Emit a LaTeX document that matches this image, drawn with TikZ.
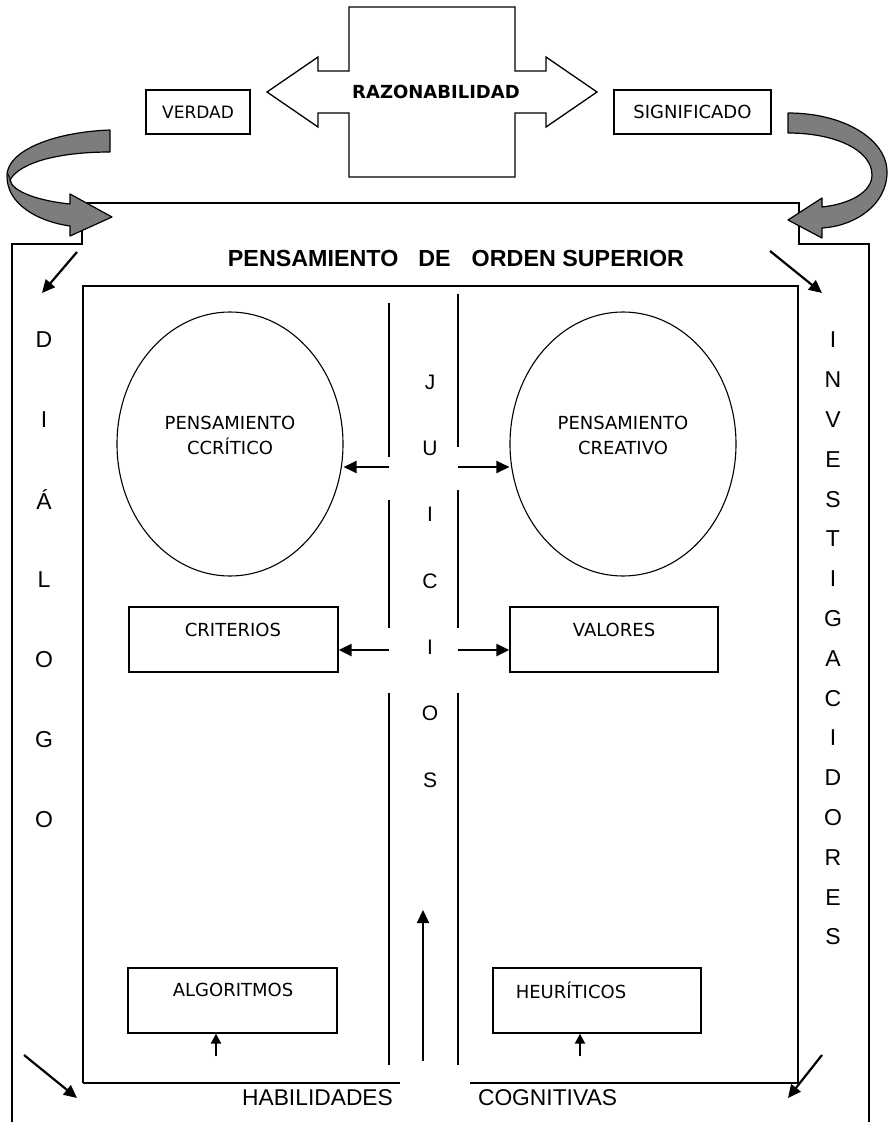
\documentclass[tikz,border=0pt]{standalone}
\usepackage{fontspec}
\setmainfont{Liberation Sans}
\newfontfamily\comic{DejaVu Sans}
\usetikzlibrary{arrows.meta,shapes.geometric}

\definecolor{ribbon}{RGB}{125,125,125}

\tikzset{
  frame/.style={line width=1.3pt},
  thickframe/.style={line width=2.2pt},
  box/.style={draw, line width=1.3pt, inner sep=0pt},
  arr/.style={line width=2.2pt, -{Triangle[length=13pt,width=12pt]}},
  smallarr/.style={line width=2.2pt, -{Triangle[length=10pt,width=10pt]}},
  comictext/.style={font=\comic\fontsize{18}{25}\selectfont, align=center, inner sep=0pt},
  comicbold/.style={font=\comic\bfseries\fontsize{18}{22}\selectfont, inner sep=0pt},
  letter/.style={font=\fontsize{23}{25}\selectfont, inner sep=0pt},
  jletter/.style={font=\fontsize{21}{23}\selectfont, inner sep=0pt},
  ribbonarrow/.style={fill=ribbon, draw=black, line width=1.2pt, line join=round}
}

\begin{document}
\begin{tikzpicture}[x=1pt, y=-1pt]
\useasboundingbox (0,0) rectangle (888,1122);

% central double-headed cross arrow
\draw[frame, fill=white] (349,7) -- (515,7) -- (515,71) -- (546,71) -- (546,57) -- (597,92)
  -- (546,127) -- (546,113) -- (515,113) -- (515,177) -- (349,177) -- (349,113)
  -- (318,113) -- (318,127) -- (267,92) -- (318,57) -- (318,71) -- (349,71) -- cycle;
\node[comicbold] (razon) at (436,92) {RAZONABILIDAD};

\node[box, minimum width=104pt, minimum height=44pt] (verdad) at (198,112) {};
\node[comictext, font=\comic\fontsize{17}{20}\selectfont] at (verdad.center) {VERDAD};
\node[box, minimum width=157pt, minimum height=44pt] (signif) at (692.5,112) {};
\node[comictext] at (signif.center) {SIGNIFICADO};

% outer frame
\draw[frame] (12,1122) -- (12,244) -- (82,244) -- (82,203) -- (799,203) -- (799,244) -- (869,244) -- (869,1122);

% inner frame
\draw[frame] (83,1083) -- (83,286) -- (798,286) -- (798,1083);
\draw[thickframe] (83,1083) -- (400,1083);
\draw[thickframe] (470,1083) -- (798,1083);

% curved ribbon arrows
\draw[ribbonarrow] (110,130) .. controls (55,132) and (8,150) .. (7,175)
  .. controls (6,205) and (40,222) .. (70,226) -- (70,236) -- (112,217) -- (70,194) -- (70,204)
  .. controls (40,201) and (12,192) .. (10,180)
  .. controls (20,162) and (60,152) .. (110,152) -- cycle;
\draw[line width=1pt] (7,172) -- (11,181);

\draw[ribbonarrow] (788,113) .. controls (845,113) and (887,140) .. (887,172)
  .. controls (887,205) and (855,226) .. (822,228) -- (822,238) -- (788,220) -- (822,198) -- (822,207)
  .. controls (850,204) and (872,192) .. (872,175)
  .. controls (872,150) and (835,133) .. (788,133) -- cycle;

% title
\node[font=\bfseries\fontsize{23.3}{26}\selectfont, inner sep=0pt] (title) at (456,258)
  {PENSAMIENTO\hspace{20pt}DE\hspace{21pt}ORDEN SUPERIOR};

% corner arrows
\coordinate (tl0) at (77,252);  \coordinate (tl1) at (42,293);
\coordinate (tr0) at (770,251); \coordinate (tr1) at (822,293);
\coordinate (bl0) at (24,1055); \coordinate (bl1) at (77,1098);
\coordinate (br0) at (822,1055);\coordinate (br1) at (788,1098);
\draw[arr] (tl0) -- (tl1);
\draw[arr] (tr0) -- (tr1);
\draw[arr] (bl0) -- (bl1);
\draw[arr] (br0) -- (br1);

% DIÁLOGO
\foreach \ch [count=\i from 0] in {D,I,Á,L,O,G,O}
  \node[letter] (dia\i) at (44,340+80*\i) {\ch};

% INVESTIGACIDORES
\foreach \ch [count=\i from 0] in {I,N,V,E,S,T,I,G,A,C,I,D,O,R,E,S}
  \node[letter] (inv\i) at (833,340+39.8*\i) {\ch};

% JUICIOS channel
\draw[frame] (389,303) -- (389,457);
\draw[frame] (389,500) -- (389,628);
\draw[frame] (389,693) -- (389,1065);
\draw[frame] (458,294) -- (458,447);
\draw[frame] (458,490) -- (458,628);
\draw[frame] (458,693) -- (458,1065);
\foreach \ch [count=\i from 0] in {J,U,I,C,I,O,S}
  \node[jletter] (jui\i) at (430,382+66.3*\i) {\ch};

% thinking ellipses
\node[draw, ellipse, line width=1.1pt, minimum width=226pt, minimum height=264pt, inner sep=0pt] (critico) at (230,444) {};
\node[comictext] at (230,435.5) {PENSAMIENTO\\CCRÍTICO};
\node[draw, ellipse, line width=1.1pt, minimum width=226pt, minimum height=264pt, inner sep=0pt] (creativo) at (623,444) {};
\node[comictext] at (623,435.5) {PENSAMIENTO\\CREATIVO};

% boxes
\node[box, minimum width=209pt, minimum height=65pt] (crit) at (233.5,639.5) {};
\node[comictext] at (233,630) {CRITERIOS};
\node[box, minimum width=208pt, minimum height=65pt] (valores) at (614,639.5) {};
\node[comictext] at (614,630) {VALORES};
\node[box, minimum width=209pt, minimum height=65pt] (algo) at (232.5,1000.5) {};
\node[comictext] at (233,990) {ALGORITMOS};
\node[box, minimum width=208pt, minimum height=65pt] (heur) at (597,1000.5) {};
\node[comictext] at (571,990) {HEURÍTICOS};

% arrows out of the channel
\coordinate (ja) at (389,467);
\coordinate (jb) at (458,467);
\coordinate (jc) at (389,650);
\coordinate (jd) at (458,650);
\draw[arr] (ja) -- (ja -| critico.east);
\draw[arr] (jb) -- (jb -| creativo.west);
\draw[arr] (jc) -- (jc -| crit.east);
\draw[arr] (jd) -- (jd -| valores.west);

% upward arrows
\coordinate (ua) at (216,1056);
\coordinate (ub) at (580,1056);
\draw[smallarr] (ua) -- (ua |- algo.south);
\draw[smallarr] (ub) -- (ub |- heur.south);
\coordinate (up0) at (423,1061);
\coordinate (up1) at (423,910);
\draw[arr] (up0) -- (up1);

% bottom labels
\node[font=\fontsize{22.8}{26}\selectfont, inner sep=0pt] (hab) at (317.5,1098) {HABILIDADES};
\node[font=\fontsize{22.8}{26}\selectfont, inner sep=0pt] (cog) at (547.5,1098) {COGNITIVAS};
\end{tikzpicture}
\end{document}
